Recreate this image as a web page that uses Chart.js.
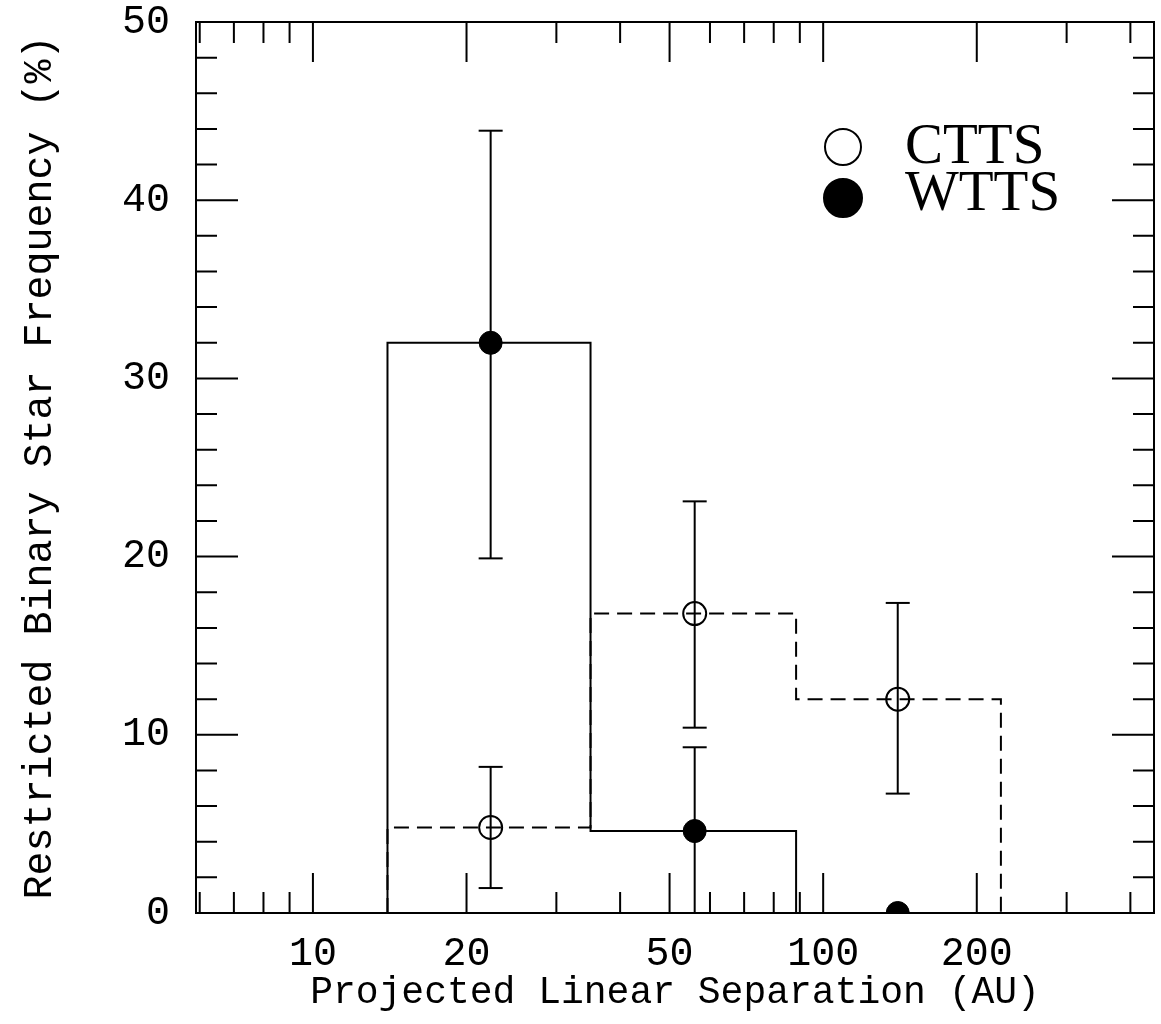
<!DOCTYPE html>
<html>
<head>
<meta charset="utf-8">
<title>Restricted binary star frequency</title>
<script src="https://cdn.jsdelivr.net/npm/chart.js@4.4.1/dist/chart.umd.min.js"></script>
<style>
  body { margin: 0; background: #fff; }
  #wrap { width: 1161px; height: 1024px; }
</style>
</head>
<body>
<div id="wrap"><canvas id="chart" width="1161" height="1024"></canvas></div>
<script>
// separation bins (AU) and where the points sit inside them
const binEdges = [14, 35, 88.5, 223];
const binCentres = [22.3, 56, 140];

// CTTS: dashed histogram, open circles
const cttsFreq = [4.8, 16.8, 12.0];
const cttsLow = [1.4, 10.4, 6.7];
const cttsHigh = [8.2, 23.1, 17.4];

// WTTS: solid histogram, filled circles (no error bar on the last bin)
const wttsFreq = [32.0, 4.6, 0];
const wttsLow = [19.9, 0, null];
const wttsHigh = [43.9, 9.3, null];

const xTickLabels = [10, 20, 50, 100, 200];
const xMinorTicks = [6, 7, 8, 9, 30, 40, 60, 70, 80, 90, 300, 400];
const yTickLabels = [0, 10, 20, 30, 40, 50];
const yMinorTicks = [2, 4, 6, 8, 12, 14, 16, 18, 22, 24, 26, 28, 32, 34, 36, 38, 42, 44, 46, 48];

const monoFont = 'Liberation Mono';

function histogramSteps(edges, values) {
    const pts = [{x: edges[0], y: 0}];
    values.forEach(function (v, i) {
        pts.push({x: edges[i], y: v});
    });
    pts.push({x: edges[edges.length - 1], y: 0});
    return pts;
}

function errorBars(xs, lo, hi) {
    const pts = [];
    xs.forEach(function (x, i) {
        if (lo[i] === null) {
            return;
        }
        pts.push({x: x, y: lo[i]}, {x: x, y: hi[i]}, {x: x, y: null});
    });
    return pts;
}

function points(xs, ys) {
    return xs.map(function (x, i) {
        return {x: x, y: ys[i]};
    });
}

// inward tick marks on all four sides plus the box
const frameTicks = {
    id: 'frameTicks',
    afterDatasetsDraw(chart) {
        const ctx = chart.ctx;
        const a = chart.chartArea;
        const xs = chart.scales.x;
        const ys = chart.scales.y;
        ctx.save();
        ctx.strokeStyle = '#000';
        ctx.lineWidth = 2;
        ctx.strokeRect(a.left, a.top, a.right - a.left, a.bottom - a.top);
        ctx.beginPath();
        function xTicks(vals, len) {
            vals.forEach(function (v) {
                const px = xs.getPixelForValue(v);
                ctx.moveTo(px, a.bottom);
                ctx.lineTo(px, a.bottom - len);
                ctx.moveTo(px, a.top);
                ctx.lineTo(px, a.top + len);
            });
        }
        function yTicks(vals, len) {
            vals.forEach(function (v) {
                const py = ys.getPixelForValue(v);
                ctx.moveTo(a.left, py);
                ctx.lineTo(a.left + len, py);
                ctx.moveTo(a.right, py);
                ctx.lineTo(a.right - len, py);
            });
        }
        xTicks(xTickLabels, 40);
        xTicks(xMinorTicks, 21);
        yTicks(yTickLabels, 42);
        yTicks(yMinorTicks, 21);
        ctx.stroke();
        ctx.restore();
    }
};

// legend in the upper right of the plot
const cornerLegend = {
    id: 'cornerLegend',
    afterDraw(chart) {
        const ctx = chart.ctx;
        const a = chart.chartArea;
        const rows = [
            {ds: chart.data.datasets[0], cy: a.top + 125, r: 18, base: a.top + 141},
            {ds: chart.data.datasets[1], cy: a.top + 176, r: 19, base: a.top + 188}
        ];
        ctx.save();
        ctx.font = '57px "Liberation Serif"';
        ctx.textBaseline = 'alphabetic';
        ctx.textAlign = 'left';
        rows.forEach(function (row) {
            const mx = a.right - 311;
            ctx.beginPath();
            ctx.arc(mx, row.cy, row.r, 0, Math.PI * 2);
            ctx.lineWidth = 2;
            ctx.strokeStyle = '#000';
            if (row.ds.pointBackgroundColor !== 'rgba(0,0,0,0)') {
                ctx.fillStyle = row.ds.pointBackgroundColor;
                ctx.fill();
            }
            ctx.stroke();
            ctx.fillStyle = '#000';
            ctx.fillText(row.ds.label, a.right - 249, row.base);
        });
        ctx.restore();
    }
};

const config = {
    type: 'line',
    data: {
        datasets: [
            {
                label: 'CTTS',
                data: points(binCentres, cttsFreq),
                showLine: false,
                pointStyle: 'circle',
                pointRadius: 11.5,
                pointBorderWidth: 2,
                pointBorderColor: '#000',
                pointBackgroundColor: 'rgba(0,0,0,0)'
            },
            {
                label: 'WTTS',
                data: points(binCentres, wttsFreq),
                showLine: false,
                clip: 0,
                pointStyle: 'circle',
                pointRadius: 11.5,
                pointBorderWidth: 1,
                pointBorderColor: '#000',
                pointBackgroundColor: '#000'
            },
            {
                label: 'CTTS errors',
                data: errorBars(binCentres, cttsLow, cttsHigh),
                borderColor: '#000',
                borderWidth: 2,
                spanGaps: false,
                pointStyle: 'line',
                pointRadius: 12,
                pointBorderWidth: 2,
                pointBorderColor: '#000'
            },
            {
                label: 'WTTS errors',
                data: errorBars(binCentres, wttsLow, wttsHigh),
                borderColor: '#000',
                borderWidth: 2,
                spanGaps: false,
                pointStyle: 'line',
                pointRadius: 12,
                pointBorderWidth: 2,
                pointBorderColor: '#000'
            },
            {
                label: 'WTTS histogram',
                data: histogramSteps(binEdges, wttsFreq),
                stepped: true,
                borderColor: '#000',
                borderWidth: 2,
                pointRadius: 0,
                fill: false
            },
            {
                label: 'CTTS histogram',
                data: histogramSteps(binEdges, cttsFreq),
                stepped: true,
                borderColor: '#000',
                borderWidth: 2,
                borderDash: [15, 8],
                pointRadius: 0,
                fill: false
            }
        ]
    },
    options: {
        responsive: false,
        animation: false,
        events: [],
        layout: {
            autoPadding: false,
            padding: {left: 0, right: 7, top: 22, bottom: 0}
        },
        plugins: {
            legend: {display: false},
            tooltip: {enabled: false}
        },
        scales: {
            x: {
                type: 'logarithmic',
                min: 5.9,
                max: 445,
                afterBuildTicks: function (scale) {
                    scale.ticks = xTickLabels.map(function (v) {
                        return {value: v};
                    });
                },
                afterFit: function (scale) {
                    scale.height = 111;
                    scale.paddingLeft = 0;
                    scale.paddingRight = 0;
                },
                grid: {display: false},
                border: {display: false},
                ticks: {
                    color: '#000',
                    autoSkip: false,
                    maxRotation: 0,
                    padding: 13,
                    font: {family: monoFont, size: 40, lineHeight: 1},
                    callback: function (value) {
                        return String(value);
                    }
                },
                title: {
                    display: true,
                    text: 'Projected Linear Separation (AU)',
                    color: '#000',
                    font: {family: monoFont, size: 38},
                    padding: {top: 0, bottom: 8}
                }
            },
            y: {
                min: 0,
                max: 50,
                afterBuildTicks: function (scale) {
                    scale.ticks = yTickLabels.map(function (v) {
                        return {value: v};
                    });
                },
                afterFit: function (scale) {
                    scale.width = 196;
                    scale.paddingTop = 0;
                    scale.paddingBottom = 0;
                },
                grid: {display: false},
                border: {display: false},
                ticks: {
                    color: '#000',
                    padding: 18,
                    font: {family: monoFont, size: 40, lineHeight: 1}
                },
                title: {
                    display: true,
                    text: 'Restricted Binary Star Frequency (%)',
                    color: '#000',
                    font: {family: monoFont, size: 40},
                    padding: {top: 16, bottom: 0}
                }
            }
        }
    },
    plugins: [frameTicks, cornerLegend]
};

const myChart = new Chart(document.getElementById('chart'), config);
</script>
</body>
</html>
